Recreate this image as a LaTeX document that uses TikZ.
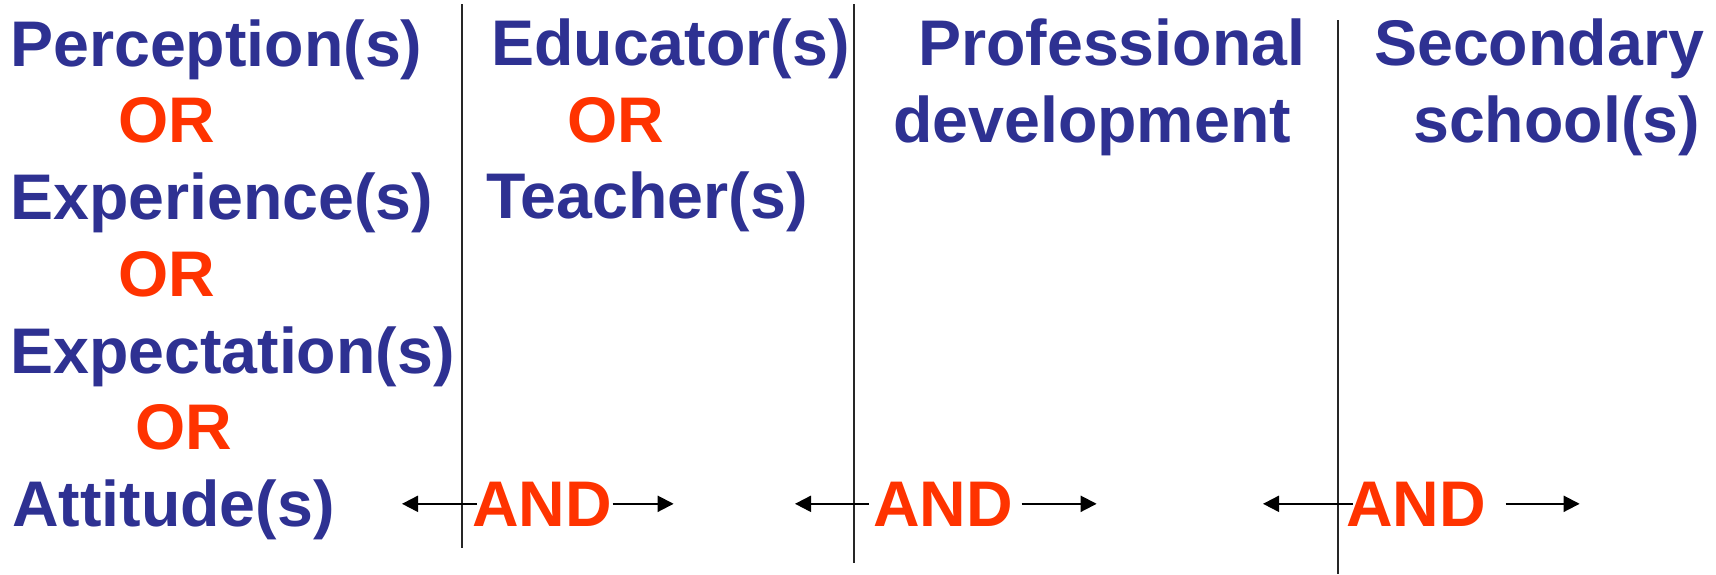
\documentclass[tikz,border=0pt]{standalone}
\usepackage{fontspec}
\setmainfont{Liberation Sans}
\usetikzlibrary{arrows.meta}
\definecolor{termblue}{RGB}{46,49,146}
\definecolor{opred}{RGB}{255,51,0}
\tikzset{
  term/.style={anchor=base west,inner sep=0pt,text=termblue,font=\fontsize{64.5}{76}\selectfont\bfseries},
  op/.style={term,text=opred},
  link/.style={-{Triangle[length=16pt,width=16pt]},line width=2pt},
  rule/.style={line width=2pt,black!85},
}
\begin{document}
\begin{tikzpicture}[x=1pt,y=-1pt]
    \useasboundingbox (0,0) rectangle (1716,574);
    % first column
    \node[term] (perc) at (10,66) {Perception(s)};
    \node[op] (or1) at (118,142) {OR};
    \node[term] (exper) at (10,219) {Experience(s)};
    \node[op] (or2) at (118,296) {OR};
    \node[term] (expect) at (10,373) {Expectation(s)};
    \node[op] (or3) at (135,449) {OR};
    \node[term] (att) at (12,526) {Attitude(s)};
    % second column
    \node[term] (edu) at (491,65) {Educator(s)};
    \node[op] (or4) at (567,142) {OR};
    \node[term] (teach) at (486,218) {Teacher(s)};
    % third and fourth columns
    \node[term] (prof) at (918,65) {Professional};
    \node[term] (dev) at (893,142) {development};
    \node[term] (sec) at (1374,65) {Secondary};
    \node[term] (school) at (1413,142) {school(s)};
    % separators
    \draw[rule] (462,4) -- (462,548);
    \draw[rule] (854,4) -- (854,563);
    \draw[rule] (1338,20) -- (1338,574);
    % AND with arrows
    \node[op] (and1) at (472,526) {AND};
    \node[op] (and2) at (873,526) {AND};
    \node[op] (and3) at (1346,526) {AND};
    \coordinate (l1) at ([xshift=-70pt]and1.west);
    \coordinate (r1) at ([xshift=61.5pt]and1.east);
    \coordinate (l2) at ([xshift=-78pt]and2.west);
    \coordinate (r2) at ([xshift=83.5pt]and2.east);
    \coordinate (l3) at ([xshift=-83pt]and3.west);
    \coordinate (r3) at ([xshift=93.5pt]and3.east);
    \draw[link] ([xshift=5pt]and1.west) -- (l1);
    \draw[link] ([xshift=0.5pt]and1.east) -- (r1);
    \draw[link] ([xshift=-4pt]and2.west) -- (l2);
    \draw[link] ([xshift=8.5pt]and2.east) -- (r2);
    \draw[link] ([xshift=7pt]and3.west) -- (l3);
    \draw[link] ([xshift=19.5pt]and3.east) -- (r3);
\end{tikzpicture}
\end{document}
